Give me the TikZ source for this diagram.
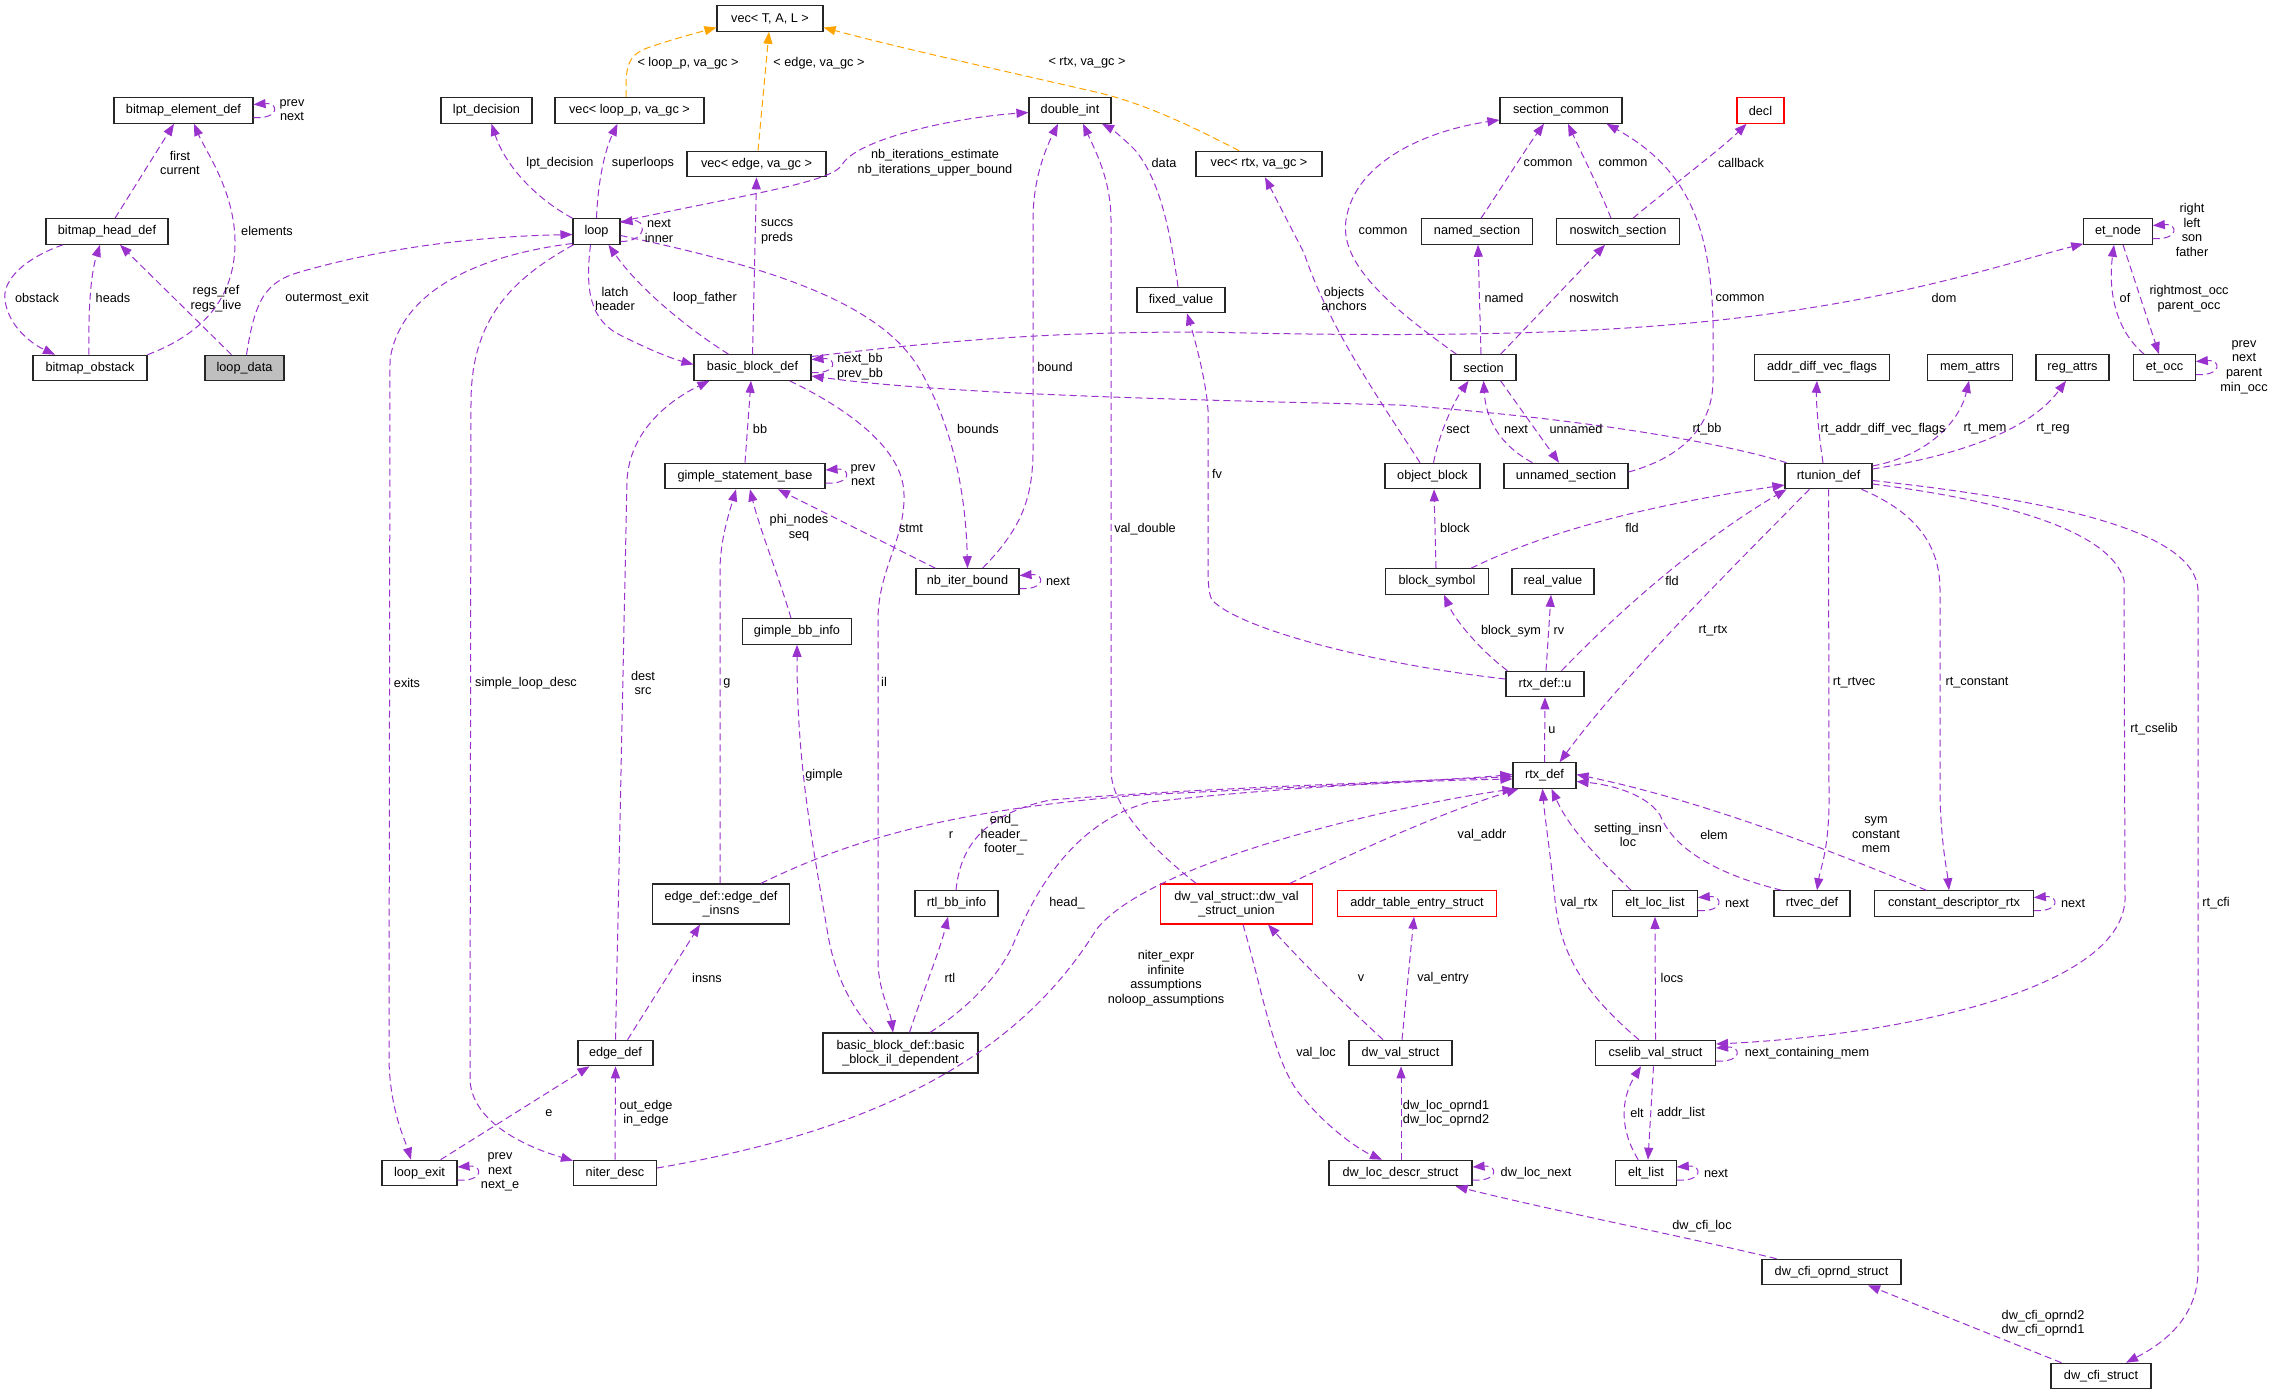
\documentclass[tikz,border=0pt]{standalone}
\usepackage{fontspec}
\setmainfont{Liberation Sans}
\usetikzlibrary{arrows.meta,calc}
\definecolor{pc}{HTML}{9A32CD}
\definecolor{oc}{HTML}{FFA500}
\newcommand\dxf{\fontsize{12.7pt}{14.6pt}\selectfont}
\tikzset{
 cbox/.style={draw=black!85,line width=1.1pt,fill=white,minimum height=25.5pt,inner sep=1pt,font=\dxf,text=black},
 tbox/.style={cbox,minimum height=40pt,align=center},
 pe/.style={color=pc,line width=1pt,dash pattern=on 7pt off 4pt,-{Triangle[length=12pt,width=9pt]}},
 oe/.style={pe,color=oc},
 elab/.style={font=\dxf,inner sep=0pt,align=center,text=black}
}
\begin{document}
\begin{tikzpicture}[x=1pt,y=-1pt]
\fill[white] (0,0) rectangle (2274,1395);
\useasboundingbox (0,0) rectangle (2274,1395);
% ---------------- nodes
\node[cbox,minimum width=139pt] (bed) at (183.5,110.5) {bitmap\_element\_def};
\node[cbox,minimum width=91pt] (lpt) at (486.5,110.5) {lpt\_decision};
\node[cbox,minimum width=149pt] (vlp) at (629.5,110.5) {vec< loop\_p, va\_gc >};
\node[cbox,minimum width=106pt] (vtal) at (770,18.5) {vec< T, A, L >};
\node[cbox,minimum width=139pt] (vedge) at (756.5,164) {vec< edge, va\_gc >};
\node[cbox,minimum width=82pt] (dint) at (1070,110.5) {double\_int};
\node[cbox,minimum width=126pt] (vrtx) at (1259,164) {vec< rtx, va\_gc >};
\node[cbox,minimum width=122pt] (secc) at (1561,110.5) {section\_common};
\node[cbox,draw=red,minimum width=47pt] (decl) at (1760.5,110.5) {decl};
\node[cbox,minimum width=122pt] (bhd) at (107,231.5) {bitmap\_head\_def};
\node[cbox,minimum width=47pt] (lp) at (596.5,231.5) {loop};
\node[cbox,minimum width=110.5pt] (nsec) at (1477,231.5) {named\_section};
\node[cbox,minimum width=123pt] (nssec) at (1618,231.5) {noswitch\_section};
\node[cbox,minimum width=68.5pt] (etn) at (2118,231.5) {et\_node};
\node[cbox,minimum width=88pt] (fixv) at (1181,300) {fixed\_value};
\node[cbox,minimum width=114pt] (bob) at (90,368) {bitmap\_obstack};
\node[cbox,fill=black!25,minimum width=79pt] (ldata) at (244.5,368) {loop\_data};
\node[cbox,minimum width=117pt] (bbd) at (752.5,367.5) {basic\_block\_def};
\node[cbox,minimum width=65pt] (sec) at (1483.5,367.5) {section};
\node[cbox,minimum width=135pt] (adv) at (1822,367.5) {addr\_diff\_vec\_flags};
\node[cbox,minimum width=84.5pt] (mem) at (1970,367.5) {mem\_attrs};
\node[cbox,minimum width=73pt] (reg) at (2072.5,367.5) {reg\_attrs};
\node[cbox,minimum width=61.5pt] (eto) at (2164.5,367.5) {et\_occ};
\node[cbox,minimum width=160pt] (gsb) at (745,476) {gimple\_statement\_base};
\node[cbox,minimum width=95pt] (oblk) at (1432.5,476) {object\_block};
\node[cbox,minimum width=124pt] (usec) at (1566,476) {unnamed\_section};
\node[cbox,minimum width=87pt] (rtu) at (1828.5,476) {rtunion\_def};
\node[cbox,minimum width=103pt] (nbi) at (967.5,581.5) {nb\_iter\_bound};
\node[cbox,minimum width=103pt] (bsym) at (1437,581.5) {block\_symbol};
\node[cbox,minimum width=82pt] (rval) at (1553,581.5) {real\_value};
\node[cbox,minimum width=109.5pt] (gbi) at (797,631.5) {gimple\_bb\_info};
\node[cbox,minimum width=78pt] (rdu) at (1545,684) {rtx\_def::u};
\node[cbox,minimum width=63pt] (rtx) at (1544.5,775.5) {rtx\_def};
\node[tbox,minimum width=136.5pt] (edi) at (721,904) {edge\_def::edge\_def\\\_insns};
\node[cbox,minimum width=83pt] (rbi) at (956.5,903.5) {rtl\_bb\_info};
\node[tbox,draw=red,minimum width=151.5pt] (dvu) at (1236.5,904) {dw\_val\_struct::dw\_val\\\_struct\_union};
\node[cbox,draw=red,minimum width=158.5pt] (ate) at (1417,903.5) {addr\_table\_entry\_struct};
\node[cbox,minimum width=84.5pt] (ell) at (1655,903.5) {elt\_loc\_list};
\node[cbox,minimum width=76pt] (rtv) at (1812,903.5) {rtvec\_def};
\node[cbox,minimum width=158.5pt] (cdr) at (1954,903.5) {constant\_descriptor\_rtx};
\node[cbox,minimum width=75pt] (edef) at (615.5,1053) {edge\_def};
\node[tbox,minimum width=155pt] (bbil) at (900.5,1053) {basic\_block\_def::basic\\\_block\_il\_dependent};
\node[cbox,minimum width=103pt] (dvs) at (1400.5,1053) {dw\_val\_struct};
\node[cbox,minimum width=120pt] (csv) at (1655.5,1053) {cselib\_val\_struct};
\node[cbox,minimum width=75pt] (lexit) at (419.5,1173) {loop\_exit};
\node[cbox,minimum width=83pt] (nd) at (615,1173) {niter\_desc};
\node[cbox,minimum width=143pt] (dld) at (1400.5,1173) {dw\_loc\_descr\_struct};
\node[cbox,minimum width=60.5pt] (elist) at (1646,1173) {elt\_list};
\node[cbox,minimum width=139pt] (dco) at (1831.5,1272) {dw\_cfi\_oprnd\_struct};
\node[cbox,minimum width=100pt] (dcs) at (2101,1376) {dw\_cfi\_struct};
% ---------------- self loops
\draw[pe] ($(bed.east)+(0,7)$) .. controls +(26,2) and +(26,-2) .. ($(bed.east)+(0,-6)$);
\draw[pe] ($(lp.east)+(0,10)$) .. controls +(28,0) and +(26,-4) .. ($(lp.east)+(0,-9)$);
\draw[pe] ($(bbd.east)+(0,5)$) .. controls +(26,2) and +(26,-2) .. ($(bbd.east)+(0,-8)$);
\draw[pe] ($(gsb.east)+(0,7)$) .. controls +(26,2) and +(26,-2) .. ($(gsb.east)+(0,-6)$);
\draw[pe] ($(nbi.east)+(0,7)$) .. controls +(26,2) and +(26,-2) .. ($(nbi.east)+(0,-6)$);
\draw[pe] ($(etn.east)+(0,7)$) .. controls +(26,2) and +(26,-2) .. ($(etn.east)+(0,-6)$);
\draw[pe] ($(eto.east)+(0,7)$) .. controls +(26,2) and +(26,-2) .. ($(eto.east)+(0,-6)$);
\draw[pe] ($(ell.east)+(0,7)$) .. controls +(26,2) and +(26,-2) .. ($(ell.east)+(0,-6)$);
\draw[pe] ($(cdr.east)+(0,7)$) .. controls +(26,2) and +(26,-2) .. ($(cdr.east)+(0,-6)$);
\draw[pe] ($(csv.east)+(0,8)$) .. controls +(26,2) and +(26,-2) .. ($(csv.east)+(0,-5)$);
\draw[pe] ($(elist.east)+(0,7)$) .. controls +(26,2) and +(26,-2) .. ($(elist.east)+(0,-6)$);
\draw[pe] ($(dld.east)+(0,7)$) .. controls +(26,2) and +(26,-2) .. ($(dld.east)+(0,-6)$);
\draw[pe] ($(lexit.east)+(0,7)$) .. controls +(26,2) and +(26,-2) .. ($(lexit.east)+(0,-6)$);
% ---------------- bitmap group
\draw[pe] ($(bhd.north)+(8,0)$) -- ($(bed.south)+(-9.5,0)$);
\draw[pe] (bob.north east) .. controls (200,335) and (236,300) .. (235,240) .. controls (234,190) and (205,150) .. ($(bed.south)+(10.5,0)$);
\draw[pe] ($(bhd.south)+(-44,0)$) .. controls (25,258) and (2,280) .. (5,300) .. controls (8,325) and (30,343) .. ($(bob.north)+(-35,0)$);
\draw[pe] ($(bob.north)+(-1,0)$) .. controls (88,300) and (92,270) .. ($(bhd.south)+(-7,0)$);
\draw[pe] ($(ldata.north)+(-13,0)$) -- ($(bhd.south)+(13,0)$);
\draw[pe] ($(ldata.north)+(2,0)$) .. controls (255,300) and (265,282) .. (300,272) .. controls (400,243) and (500,236) .. ($(lp.west)+(0,3)$);
% ---------------- loop group
\draw[pe] (lp.north west) .. controls (535,198) and (505,165) .. ($(lpt.south)+(5,0)$);
\draw[pe] (lp.north) .. controls (598,180) and (605,150) .. ($(vlp.south)+(-12,0)$);
\draw[pe] ($(lp.east)+(0,-10)$) .. controls (760,192) and (830,182) .. (842,165) .. controls (855,140) and (950,118) .. ($(dint.west)+(0,2)$);
\draw[pe] ($(lp.south)+(-6,0)$) .. controls (585,290) and (590,320) .. (620,335) .. controls (650,350) and (670,358) .. ($(bbd.west)+(0,-3)$);
\draw[pe] ($(bbd.north)+(-24,0)$) .. controls (690,330) and (640,290) .. ($(lp.south)+(12,0)$);
\draw[pe] (bbd.north) -- (vedge.south);
\draw[pe] ($(lp.east)+(0,4)$) .. controls (760,265) and (880,300) .. (920,370) .. controls (955,430) and (966,500) .. (nbi.north);
\draw[pe] ($(lp.west)+(0,12)$) .. controls (480,255) and (400,290) .. (390,360) -- (389,1060) .. controls (390,1110) and (405,1140) .. ($(lexit.north)+(-8.5,0)$);
\draw[pe] ($(lp.south west)+(1,0)$) .. controls (510,280) and (472,320) .. (471,400) -- (470,1080) .. controls (472,1120) and (520,1145) .. ($(nd.north west)+(0,1)$);
% ---------------- basic block group
\draw[pe] ($(rtu.north west)+(2,0)$) .. controls (1730,445) and (1600,420) .. (1400,405) .. controls (1200,400) and (950,395) .. ($(bbd.east)+(0,8.5)$);
\draw[pe] ($(bbd.east)+(0,-11)$) .. controls (950,340) and (1050,332) .. (1200,332) .. controls (1450,338) and (1600,333) .. (1720,320) .. controls (1900,300) and (2000,265) .. ($(etn.south west)+(0,-1)$);
\draw[pe] (gsb.north) -- ($(bbd.south)+(-1.5,0)$);
\draw[pe] ($(bbd.south east)+(-22,0)$) .. controls (850,410) and (904,450) .. (904,495) .. controls (905,540) and (878,570) .. (878,620) -- (878,960) .. controls (878,990) and (890,1010) .. ($(bbil.north)+(-7.5,0)$);
\draw[pe] ($(bbil.north)+(-26.5,0)$) .. controls (850,1005) and (835,975) .. (828,935) .. controls (810,830) and (797,760) .. (gbi.south);
\draw[pe] ($(bbil.north)+(9,0)$) .. controls (920,1000) and (940,950) .. ($(rbi.south)+(-8.5,0)$);
\draw[pe] ($(bbil.north)+(29.5,0)$) .. controls (980,1000) and (1005,965) .. (1015,940) .. controls (1040,880) and (1080,820) .. (1150,802) .. controls (1300,785) and (1450,780) .. ($(rtx.west)+(0,3.5)$);
\draw[pe] ($(edi.north)+(-1,0)$) -- (720,570) .. controls (720,540) and (730,510) .. ($(gsb.south)+(-9,0)$);
\draw[pe] ($(gbi.north)+(-6,0)$) .. controls (780,580) and (760,530) .. ($(gsb.south)+(5,0)$);
\draw[pe] ($(nbi.north west)+(20,0)$) -- ($(gsb.south)+(33,0)$);
\draw[pe] ($(nbi.north east)+(-37,0)$) .. controls (1020,530) and (1033,500) .. (1033,450) -- (1033,220) .. controls (1033,180) and (1045,150) .. ($(dint.south)+(-12,0)$);
\draw[pe] ($(dvu.north west)+(36,0)$) .. controls (1160,855) and (1111,810) .. (1111,770) -- (1111,220) .. controls (1111,180) and (1095,150) .. ($(dint.south)+(13,0)$);
\draw[pe] ($(fixv.north)+(-3,0)$) .. controls (1170,230) and (1160,180) .. (1135,150) .. controls (1120,135) and (1110,128) .. ($(dint.south)+(32,0)$);
\draw[pe] ($(rdu.west)+(0,-5)$) .. controls (1380,665) and (1240,630) .. (1212,600) .. controls (1208,592) and (1208,580) .. (1208,560) -- (1208,410) .. controls (1206,380) and (1195,340) .. ($(fixv.south)+(6,0)$);
% ---------------- vec group
\draw[pe] ($(oblk.north)+(-12.5,0)$) .. controls (1380,400) and (1330,330) .. (1304,253) -- ($(vrtx.south)+(6,0)$);
\draw[oe] ($(vrtx.north)+(-20,0)$) .. controls (1180,120) and (1140,103) .. (1100,93) .. controls (1000,70) and (900,48) .. ($(vtal.east)+(0,9)$);
\draw[oe] ($(vlp.north)+(-3.5,0)$) .. controls (626,70) and (625,55) .. (650,47) .. controls (680,37) and (700,32) .. ($(vtal.west)+(0,9)$);
\draw[oe] ($(vedge.north)+(1.5,0)$) -- ($(vtal.south)+(-1,0)$);
% ---------------- section group
\draw[pe] ($(sec.north west)+(6,0)$) .. controls (1380,300) and (1340,260) .. (1346,220) .. controls (1355,160) and (1430,130) .. ($(secc.west)+(0,9.5)$);
\draw[pe] ($(nsec.north)+(4,0)$) .. controls (1500,190) and (1525,150) .. ($(secc.south)+(-17,0)$);
\draw[pe] ($(nssec.north)+(-7,0)$) .. controls (1600,190) and (1580,150) .. ($(secc.south)+(7,0)$);
\draw[pe] ($(nssec.north east)+(-47,0)$) .. controls (1660,195) and (1720,150) .. ($(decl.south)+(-14,0)$);
\draw[pe] ($(usec.east)+(0,-4)$) .. controls (1690,455) and (1713,420) .. (1713,380) -- (1713,320) .. controls (1710,230) and (1690,170) .. ($(secc.south east)+(-16,0)$);
\draw[pe] ($(sec.north)+(-2.5,0)$) -- ($(nsec.south)+(1,0)$);
\draw[pe] ($(sec.north east)+(-16,0)$) -- ($(nssec.south)+(-13,0)$);
\draw[pe] ($(oblk.north)+(1,0)$) .. controls (1440,430) and (1455,400) .. ($(sec.south)+(-15,0)$);
\draw[pe] ($(usec.north west)+(29,0)$) .. controls (1500,445) and (1486,420) .. (sec.south);
\draw[pe] ($(sec.south east)+(-16,0)$) -- ($(usec.north)+(-7,0)$);
\draw[pe] ($(bsym.north)+(-1,0)$) -- ($(oblk.south)+(1.5,0)$);
\draw[pe] ($(bsym.north east)+(-18,0)$) .. controls (1550,530) and (1650,505) .. ($(rtu.west)+(0,9)$);
\draw[pe] ($(rdu.north east)+(-23,0)$) .. controls (1620,610) and (1700,540) .. ($(rtu.south west)+(2,0)$);
\draw[pe] ($(rdu.north west)+(2,0)$) .. controls (1480,650) and (1455,620) .. ($(bsym.south)+(7,0)$);
\draw[pe] ($(rdu.north)+(1,0)$) -- ($(rval.south)+(-2,0)$);
\draw[pe] (rtx.north) -- (rdu.south);
% ---------------- rtunion group
\draw[pe] ($(rtu.south west)+(25,0)$) .. controls (1720,580) and (1620,680) .. ($(rtx.north east)+(-17,0)$);
\draw[pe] (rtu.south) -- (1829,800) .. controls (1829,850) and (1820,870) .. ($(rtv.north)+(5,0)$);
\draw[pe] ($(rtu.south east)+(-11,0)$) .. controls (1910,510) and (1940,540) .. (1940,590) -- (1940,800) .. controls (1942,850) and (1947,870) .. ($(cdr.north)+(-5,0)$);
\draw[pe] ($(rtu.east)+(0,8)$) .. controls (2000,500) and (2110,530) .. (2124,580) -- (2125,900) .. controls (2120,990) and (1900,1035) .. ($(csv.east)+(0,-9)$);
\draw[pe] ($(rtu.east)+(0,4.5)$) .. controls (2050,500) and (2195,530) .. (2198,590) -- (2198,1270) .. controls (2198,1320) and (2160,1345) .. ($(dcs.north)+(25,0)$);
\draw[pe] ($(rtu.north)+(-5.5,0)$) .. controls (1818,430) and (1816,400) .. ($(adv.south)+(-5,0)$);
\draw[pe] ($(rtu.east)+(0,-10)$) .. controls (1930,455) and (1960,420) .. ($(mem.south)+(-1,0)$);
\draw[pe] ($(rtu.east)+(0,-7)$) .. controls (1960,455) and (2030,430) .. ($(reg.south)+(-6.5,0)$);
% ---------------- et group
\draw[pe] ($(eto.north west)+(11,0)$) .. controls (2115,330) and (2108,290) .. ($(etn.south)+(-4,0)$);
\draw[pe] ($(etn.south)+(5,0)$) -- ($(eto.north)+(-5.5,0)$);
% ---------------- rtx incoming
\draw[pe] ($(edi.north east)+(-29,0)$) .. controls (850,840) and (950,810) .. (1140,795) .. controls (1300,787) and (1450,780) .. ($(rtx.west)+(0,-1)$);
\draw[pe] ($(rbi.north)+(-0.5,0)$) .. controls (960,850) and (980,815) .. (1050,800) .. controls (1200,788) and (1400,782) .. ($(rtx.west)+(0,1)$);
\draw[pe] ($(nd.east)+(0,-5)$) .. controls (850,1135) and (1010,1070) .. (1096,930) .. controls (1150,860) and (1400,805) .. ($(rtx.south west)+(2,0)$);
\draw[pe] ($(dvu.north east)+(-23,0)$) .. controls (1380,840) and (1450,810) .. ($(rtx.south west)+(6,0)$);
\draw[pe] ($(ell.north)+(-24,0)$) .. controls (1600,860) and (1570,830) .. ($(rtx.south)+(7,0)$);
\draw[pe] ($(csv.north west)+(44,0)$) .. controls (1580,990) and (1560,950) .. (1555,900) .. controls (1550,850) and (1545,820) .. ($(rtx.south)+(-2,0)$);
\draw[pe] ($(rtv.north west)+(8,0)$) .. controls (1700,870) and (1670,840) .. (1660,815) .. controls (1645,792) and (1605,784) .. ($(rtx.east)+(0,6)$);
\draw[pe] ($(cdr.north west)+(52,0)$) .. controls (1830,850) and (1700,800) .. ($(rtx.east)+(0,-1)$);
% ---------------- cselib / dwarf
\draw[pe] (csv.north) -- (ell.south);
\draw[pe] ($(elist.north west)+(23,0)$) .. controls (1620,1130) and (1620,1100) .. ($(csv.south)+(-14.5,0)$);
\draw[pe] ($(csv.south)+(-2,0)$) -- ($(elist.north)+(2,0)$);
\draw[pe] ($(dvs.north)+(-17.5,0)$) .. controls (1340,1000) and (1300,960) .. ($(dvu.south)+(31.5,0)$);
\draw[pe] ($(dvs.north)+(1.5,0)$) -- ($(ate.south)+(-3,0)$);
\draw[pe] ($(dvu.south)+(6.5,0)$) .. controls (1265,1000) and (1275,1070) .. (1305,1100) .. controls (1330,1130) and (1360,1150) .. ($(dld.north)+(-18.5,0)$);
\draw[pe] ($(dld.north)+(0.5,0)$) -- ($(dvs.south)+(0.5,0)$);
\draw[pe] ($(dco.north west)+(15,0)$) .. controls (1700,1240) and (1550,1210) .. ($(dld.south east)+(-17,0)$);
\draw[pe] ($(dcs.north west)+(11,0)$) -- ($(dco.south)+(36.5,0)$);
% ---------------- edge group
\draw[pe] (edef.north) -- (627,480) .. controls (630,430) and (670,400) .. ($(bbd.south west)+(16,0)$);
\draw[pe] ($(edef.north east)+(-26,0)$) -- ($(edi.south)+(-21,0)$);
\draw[pe] ($(lexit.north east)+(-17,0)$) -- ($(edef.south west)+(12,0)$);
\draw[pe] (nd.north) -- (edef.south);
% ---------------- labels
\node[elab] (l01) at (292,110) {prev\\next};
\node[elab] (l02) at (180,163) {first\\current};
\node[elab] (l03) at (267,231) {elements};
\node[elab] (l04) at (37,298) {obstack};
\node[elab] (l05) at (113,298) {heads};
\node[elab] (l06) at (216,299) {regs\_ref\\regs\_live};
\node[elab] (l07) at (327,298) {outermost\_exit};
\node[elab] (l08) at (560,163) {lpt\_decision};
\node[elab] (l09) at (643,163) {superloops};
\node[elab] (l10) at (659,231) {next\\inner};
\node[elab] (l11) at (935,163) {nb\_iterations\_estimate\\nb\_iterations\_upper\_bound};
\node[elab] (l12) at (615,299) {latch\\header};
\node[elab] (l13) at (705,298) {loop\_father};
\node[elab] (l14) at (777,232) {succs\\preds};
\node[elab] (l15) at (860,367) {next\_bb\\prev\_bb};
\node[elab] (l16) at (760,429) {bb};
\node[elab] (l17) at (863,475) {prev\\next};
\node[elab] (l18) at (978,429) {bounds};
\node[elab] (l19) at (1055,367) {bound};
\node[elab] (l20) at (1145,529) {val\_double};
\node[elab] (l21) at (1164,163) {data};
\node[elab] (l22) at (1217,474) {fv};
\node[elab] (l23) at (1344,299) {objects\\anchors};
\node[elab] (l24) at (1087,63) {< rtx, va\_gc >};
\node[elab] (l25) at (688,63) {< loop\_p, va\_gc >};
\node[elab] (l26) at (819,63) {< edge, va\_gc >};
\node[elab] (l27) at (1383,231) {common};
\node[elab] (l28) at (1548,163) {common};
\node[elab] (l29) at (1623,163) {common};
\node[elab] (l30) at (1740,298) {common};
\node[elab] (l31) at (1741,163) {callback};
\node[elab] (l32) at (1504,298) {named};
\node[elab] (l33) at (1594,298) {noswitch};
\node[elab] (l34) at (1458,429) {sect};
\node[elab] (l35) at (1516,429) {next};
\node[elab] (l36) at (1576,429) {unnamed};
\node[elab] (l37) at (1455,528) {block};
\node[elab] (l38) at (1632,528) {fld};
\node[elab] (l39) at (1672,581) {fld};
\node[elab] (l40) at (1511,631) {block\_sym};
\node[elab] (l41) at (1559,631) {rv};
\node[elab] (l42) at (1552,730) {u};
\node[elab] (l43) at (1713,631) {rt\_rtx};
\node[elab] (l44) at (1854,683) {rt\_rtvec};
\node[elab] (l45) at (1977,683) {rt\_constant};
\node[elab] (l46) at (2154,729) {rt\_cselib};
\node[elab] (l47) at (2216,903) {rt\_cfi};
\node[elab] (l48) at (1883,429) {rt\_addr\_diff\_vec\_flags};
\node[elab] (l49) at (1985,429) {rt\_mem};
\node[elab] (l50) at (2053,429) {rt\_reg};
\node[elab] (l51) at (1707,429) {rt\_bb};
\node[elab] (l52) at (1944,298) {dom};
\node[elab] (l53) at (2125,298) {of};
\node[elab] (l54) at (2189,299) {rightmost\_occ\\parent\_occ};
\node[elab] (l55) at (2192,230) {right\\left\\son\\father};
\node[elab] (l56) at (2244,367) {prev\\next\\parent\\min\_occ};
\node[elab] (l57) at (884,682) {il};
\node[elab] (l58) at (824,775) {gimple};
\node[elab] (l59) at (950,978) {rtl};
\node[elab] (l60) at (1067,903) {head\_};
\node[elab] (l61) at (727,683) {g};
\node[elab] (l62) at (799,528) {phi\_nodes\\seq};
\node[elab] (l63) at (911,528) {stmt};
\node[elab] (l64) at (1058,581) {next};
\node[elab] (l65) at (951,835) {r};
\node[elab] (l66) at (1004,835) {end\_\\header\_\\footer\_};
\node[elab] (l67) at (1166,978) {niter\_expr\\infinite\\assumptions\\noloop\_assumptions};
\node[elab] (l68) at (1482,835) {val\_addr};
\node[elab] (l69) at (1628,835) {setting\_insn\\loc};
\node[elab] (l70) at (1579,903) {val\_rtx};
\node[elab] (l71) at (1714,835) {elem};
\node[elab] (l72) at (1876,835) {sym\\constant\\mem};
\node[elab] (l73) at (1737,903) {next};
\node[elab] (l74) at (2073,903) {next};
\node[elab] (l75) at (1672,978) {locs};
\node[elab] (l76) at (1807,1053) {next\_containing\_mem};
\node[elab] (l77) at (1637,1113) {elt};
\node[elab] (l78) at (1681,1113) {addr\_list};
\node[elab] (l79) at (1716,1173) {next};
\node[elab] (l80) at (1361,978) {v};
\node[elab] (l81) at (1443,978) {val\_entry};
\node[elab] (l82) at (1316,1053) {val\_loc};
\node[elab] (l83) at (1446,1113) {dw\_loc\_oprnd1\\dw\_loc\_oprnd2};
\node[elab] (l84) at (1536,1173) {dw\_loc\_next};
\node[elab] (l85) at (1702,1226) {dw\_cfi\_loc};
\node[elab] (l86) at (2043,1323) {dw\_cfi\_oprnd2\\dw\_cfi\_oprnd1};
\node[elab] (l87) at (407,683) {exits};
\node[elab] (l88) at (526,683) {simple\_loop\_desc};
\node[elab] (l89) at (643,683) {dest\\src};
\node[elab] (l90) at (707,978) {insns};
\node[elab] (l91) at (549,1113) {e};
\node[elab] (l92) at (646,1113) {out\_edge\\in\_edge};
\node[elab] (l93) at (500,1172) {prev\\next\\next\_e};
\end{tikzpicture}
\end{document}
